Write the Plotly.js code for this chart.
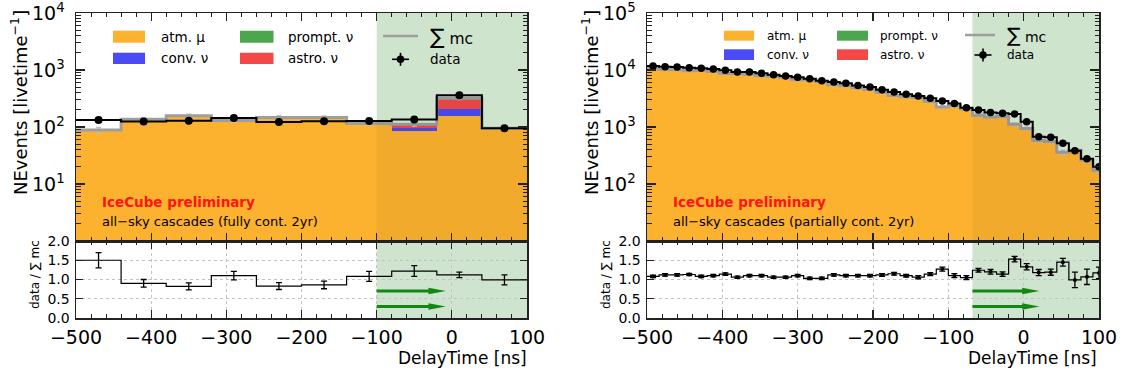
<!DOCTYPE html>
<html>
<head>
<meta charset="utf-8">
<script src="https://cdn.plot.ly/plotly-3.0.1.min.js"></script>
<style>html,body{margin:0;padding:0;background:#fff;}#chart{width:1131px;height:378px;}</style>
</head>
<body>
<div id="chart"></div>
<script>
// ---------------- LEFT PANEL DATA (fully contained, 2yr) ----------------
const leftEdges    = [-500,-440,-380,-320,-260,-200,-140,-80,-20,40,100];
const leftAtmMu    = [88,136,156,129,146,142,110,85,156,93];
const leftConvNu   = [0.6,0.8,0.9,0.8,1.2,4,4,12.5,48,1.2];
const leftPromptNu = [0.1,0.1,0.1,0.1,0.1,0.2,0.2,0.6,2.5,0.1];
const leftAstroNu  = [0.3,0.3,0.3,0.3,0.4,0.5,0.8,13.5,112,0.8];
const leftMcErr    = [9,9,10,9,10,10,9,8,15,8];
const leftData     = [133,125,129,144,122,126,127,136,360,95];
const leftDataErr  = [8,8,8,8,7,8,8,9,14,8];
const leftRatio    = [1.50,0.90,0.82,1.10,0.83,0.86,1.08,1.22,1.12,0.99];
const leftRatioErr = [0.20,0.10,0.09,0.11,0.09,0.10,0.13,0.14,0.07,0.13];
const leftCut      = {start:-100, arrowTo:-8};

// ---------------- RIGHT PANEL DATA (partially contained, 2yr) ----------------
const rightCenters  = [-492,-476,-460,-444,-428,-412,-396,-380,-364,-348,-332,-316,-300,-284,-268,-252,-236,-220,-204,-188,-172,-156,-140,-124,-108,-92,-76,-60,-44,-28,-12,4,20,36,52,68,84,100];
const rightBinWidth = 16;
const rightAtmMu    = [10880,10180,10090,9700,9910,9450,8670,8710,8390,7950,7810,7410,6760,6840,6310,5510,5310,4890,4560,4030,3570,3410,3300,2800,2250,2360,2070,1600,1490,1530,1110,930,573,555,357,388,260,171];
const rightConvNu   = [8,8,8,7,7,7,7,6,6,6,6,6,5,5,5,5,5,4,4,4,4,4,4,3,3,3,3,3,3,3,3,3,2,2,2,2,2,2];
const rightPromptNu = [0.4,0.4,0.4,0.4,0.4,0.4,0.4,0.4,0.4,0.4,0.3,0.3,0.3,0.3,0.3,0.3,0.3,0.3,0.3,0.3,0.3,0.3,0.3,0.3,0.3,0.3,0.3,0.3,0.3,0.3,0.2,0.2,0.2,0.2,0.2,0.2,0.2,0.2];
const rightAstroNu  = [1,1,1,1,1,1,1,1,1,1,1,1,1,1,1,1,1,1,1,1,1,1,1,1,1,1,1.5,2,2.5,3,4,6,4,2,1.5,1,1,1];
const rightMcErr    = [300,290,290,280,280,270,260,260,250,240,240,230,220,220,210,190,180,170,160,150,140,130,130,120,100,100,95,80,75,75,60,55,40,40,30,30,25,20];
const rightData     = [11750,11400,11300,10960,10700,10400,9880,9230,9230,8750,8280,7850,7440,7050,6500,6170,5840,5380,5020,4510,4110,3750,3500,3190,2860,2600,2170,1990,1790,1740,1700,1240,676,660,517,384,278,200];
const rightDataErr  = [110,110,110,105,105,100,100,95,95,95,90,90,85,85,80,80,75,75,70,70,65,60,60,55,55,50,50,45,45,45,45,35,25,25,25,20,17,15];
const rightRatio    = [1.08,1.12,1.12,1.13,1.08,1.10,1.14,1.06,1.10,1.10,1.06,1.06,1.10,1.03,1.03,1.12,1.10,1.10,1.10,1.12,1.15,1.10,1.06,1.14,1.27,1.10,1.05,1.24,1.20,1.14,1.53,1.33,1.18,1.19,1.45,0.99,1.07,1.17];
const rightRatioErr = [0.03,0.03,0.03,0.03,0.03,0.03,0.03,0.03,0.03,0.03,0.03,0.03,0.03,0.03,0.03,0.03,0.03,0.03,0.03,0.035,0.035,0.035,0.04,0.04,0.05,0.05,0.05,0.05,0.06,0.06,0.07,0.08,0.08,0.08,0.1,0.2,0.2,0.15];
const rightCut      = {start:-68, arrowTo:21};

const arrowLevels = [0.7, 0.3];
const legendLabels = {atm:'atm. μ', conv:'conv. ν', prompt:'prompt. ν', astro:'astro. ν', mc:'mc', data:'data'};

// ---------------- STYLE ----------------
const W = 1131, H = 378;
const FONT = 'DejaVu Sans, Verdana, sans-serif';
const C = {
  atm:'rgb(252,178,47)', conv:'rgb(75,75,245)', prompt:'rgb(77,166,77)', astro:'rgb(242,72,72)',
  mc:'rgb(158,158,158)', mcErr:'rgb(190,190,190)', data:'#000',
  cut:'rgb(207,228,206)', cutMain:'rgb(216,239,215)', arrow:'rgb(17,136,17)', axis:'#222'
};
const X = p => p / W;
const Y = p => 1 - p / H;

function edgesFromCenters(c, w){ const e = c.map(v => v - w/2); e.push(c[c.length-1] + w/2); return e; }
function centersFromEdges(e){ const c=[]; for(let i=0;i<e.length-1;i++) c.push((e[i]+e[i+1])/2); return c; }
function widthsFromEdges(e){ const w=[]; for(let i=0;i<e.length-1;i++) w.push(e[i+1]-e[i]); return w; }

function panelTraces(p){
  const centers = centersFromEdges(p.edges), widths = widthsFromEdges(p.edges);
  const comps = [[p.atm,C.atm],[p.conv,C.conv],[p.prompt,C.prompt],[p.astro,C.astro]];
  const sum = centers.map((_,i) => comps.reduce((s,c) => s + c[0][i], 0));
  const step = v => v.concat([v[v.length-1]]);
  const tr = [];
  comps.forEach(([vals,col]) => tr.push({type:'bar', x:centers, y:vals, width:widths,
    marker:{color:col, line:{width:0}}, xaxis:p.xa, yaxis:p.ya, hoverinfo:'skip'}));
  tr.push({type:'scatter', mode:'markers', x:centers, y:sum, marker:{size:0.1,color:C.mcErr},
    error_y:{type:'data', array:p.mcErr, color:C.mcErr, thickness:1.5, width:2.5},
    xaxis:p.xa, yaxis:p.ya, hoverinfo:'skip'});
  tr.push({type:'scatter', mode:'lines', x:p.edges, y:step(sum), line:{shape:'hv', color:C.mc, width:3},
    xaxis:p.xa, yaxis:p.ya, hoverinfo:'skip'});
  tr.push({type:'scatter', mode:'lines', x:p.edges, y:step(p.data), line:{shape:'hv', color:'#000', width:2},
    xaxis:p.xa, yaxis:p.ya, hoverinfo:'skip'});
  tr.push({type:'scatter', mode:'markers', x:centers, y:p.data, marker:{size:p.dot, color:'#000'},
    error_y:{type:'data', array:p.dataErr, color:'#000', thickness:1.5, width:0},
    xaxis:p.xa, yaxis:p.ya, hoverinfo:'skip'});
  // ratio
  tr.push({type:'scatter', mode:'lines', x:p.edges, y:step(p.ratio), line:{shape:'hv', color:'#000', width:1.2},
    xaxis:p.xr, yaxis:p.yr, hoverinfo:'skip'});
  tr.push({type:'scatter', mode:'markers', x:centers, y:p.ratio, marker:{size:p.rdot, color:'#000'},
    error_y:{type:'data', array:p.ratioErr, color:'#000', thickness:1.3, width:3},
    xaxis:p.xr, yaxis:p.yr, hoverinfo:'skip'});
  return tr;
}

const traces = [].concat(
  panelTraces({edges:leftEdges, atm:leftAtmMu, conv:leftConvNu, prompt:leftPromptNu, astro:leftAstroNu,
    mcErr:leftMcErr, data:leftData, dataErr:leftDataErr, ratio:leftRatio, ratioErr:leftRatioErr,
    xa:'x', ya:'y', xr:'x2', yr:'y2', dot:8, rdot:0.1}),
  panelTraces({edges:edgesFromCenters(rightCenters,rightBinWidth), atm:rightAtmMu, conv:rightConvNu, prompt:rightPromptNu, astro:rightAstroNu,
    mcErr:rightMcErr, data:rightData, dataErr:rightDataErr, ratio:rightRatio, ratioErr:rightRatioErr,
    xa:'x3', ya:'y3', xr:'x4', yr:'y4', dot:7.5, rdot:4})
);

// ---------------- AXES ----------------
const domL = [X(76), X(527)], domR = [X(647), X(1099)];
const domMain = [Y(241), Y(13)], domRatio = [Y(318), Y(241)];

function xAxis(domain, anchor, labels){
  return {domain, anchor, range:[-500,100], showticklabels:labels, tickfont:{size:19, family:FONT},
    ticks:'inside', ticklen:8, tickwidth:1.2, tickcolor:C.axis, tick0:0, dtick:100,
    mirror:'ticks', showline:true, linecolor:C.axis, linewidth:1.5, zeroline:false,
    showgrid:labels, gridcolor:'rgb(195,195,195)', griddash:'dot', gridwidth:1,
    ticklabelstandoff:2, ticklabeloverflow:'allow',
    minor:{ticks:'inside', ticklen:4, tick0:0, dtick:20, tickcolor:C.axis, tickwidth:1}};
}
function yLog(domain, anchor, lo, hi){
  const vals=[], text=[], minor=[];
  for(let d=lo; d<hi; d++){ for(let k=2;k<=9;k++) minor.push(k*Math.pow(10,d)); }
  for(let d=lo+1; d<=hi; d++){ vals.push(Math.pow(10,d)); text.push('10<sup>'+d+'</sup>'); }
  return {domain, anchor, type:'log', range:[lo,hi+0.001], tickmode:'array', tickvals:vals, ticktext:text,
    tickfont:{size:19, family:FONT}, ticks:'inside', ticklen:9, tickwidth:1.2, tickcolor:C.axis,
    mirror:'ticks', showline:true, linecolor:C.axis, linewidth:1.5, showgrid:false, zeroline:false,
    ticklabelstandoff:6, ticklabeloverflow:'allow',
    minor:{ticks:'inside', ticklen:4.5, tickmode:'array', tickvals:minor, tickcolor:C.axis, tickwidth:1}};
}
function yRatio(domain, anchor){
  return {domain, anchor, range:[0,2], tickmode:'array', tickvals:[0,0.5,1,1.5,2],
    ticktext:['0.0','0.5','1.0','1.5','2.0'], tickfont:{size:14, family:FONT},
    ticks:'inside', ticklen:7, tickwidth:1.2, tickcolor:C.axis, mirror:'ticks', showline:true,
    linecolor:C.axis, linewidth:1.5, zeroline:false, showgrid:true, gridcolor:'rgb(195,195,195)',
    griddash:'dot', gridwidth:1, ticklabelstandoff:2, ticklabeloverflow:'allow'};
}

// ---------------- SHAPES ----------------
const shapes = [];
function cutRegion(xa, ya, xr, yr, cut){
  shapes.push({type:'rect', xref:xa, yref:ya+' domain', x0:cut.start, x1:100, y0:0, y1:1, fillcolor:C.cutMain, line:{width:0}, layer:'below'});
  shapes.push({type:'rect', xref:xa, yref:ya+' domain', x0:cut.start, x1:100, y0:0, y1:1, fillcolor:'rgba(0,0,0,0.045)', line:{width:0}, layer:'above'});
  shapes.push({type:'rect', xref:xr, yref:yr+' domain', x0:cut.start, x1:100, y0:0, y1:1, fillcolor:C.cut, line:{width:0}, layer:'below'});
  arrowLevels.forEach(lv => {
    shapes.push({type:'line', xref:xr, yref:yr, x0:cut.start, x1:cut.arrowTo-20, y0:lv, y1:lv, line:{color:C.arrow, width:3}});
    shapes.push({type:'path', xref:xr, yref:yr, path:`M ${cut.arrowTo-23},${lv+0.085} L ${cut.arrowTo},${lv} L ${cut.arrowTo-23},${lv-0.085} Z`,
      fillcolor:C.arrow, line:{width:0}});
  });
}
cutRegion('x','y','x2','y2', leftCut);
cutRegion('x3','y3','x4','y4', rightCut);

const annotations = [];
function txt(text, x, y, size, extra){
  annotations.push(Object.assign({text, x:X(x), y:Y(y), xref:'paper', yref:'paper', showarrow:false,
    xanchor:'left', yanchor:'middle', font:{size, family:FONT, color:'#000'}}, extra||{}));
}
function legend(o){
  const box = (x0,x1,y0,y1,col) => shapes.push({type:'rect', xref:'paper', yref:'paper', x0:X(x0), x1:X(x1), y0:Y(y1), y1:Y(y0), fillcolor:col, line:{width:0}});
  box(o.c1[0], o.c1[1], o.r1[0], o.r1[1], C.atm);
  box(o.c1[0], o.c1[1], o.r2[0], o.r2[1], C.conv);
  box(o.c2[0], o.c2[1], o.r1[0], o.r1[1], C.prompt);
  box(o.c2[0], o.c2[1], o.r2[0], o.r2[1], C.astro);
  const m1 = (o.r1[0]+o.r1[1])/2, m2 = (o.r2[0]+o.r2[1])/2;
  txt(legendLabels.atm, o.t1, m1, o.fs);
  txt(legendLabels.conv, o.t1, m2, o.fs);
  txt(legendLabels.prompt, o.t2, m1, o.fs);
  txt(legendLabels.astro, o.t2, m2, o.fs);
  shapes.push({type:'line', xref:'paper', yref:'paper', x0:X(o.mc[0]), x1:X(o.mc[1]), y0:Y(o.mcY), y1:Y(o.mcY), line:{color:C.mc, width:2.5}});
  txt('<span style="font-size:'+(o.fs+8)+'px">∑</span> '+legendLabels.mc, o.t3, o.mcY, o.fs+2);
  const dx = o.dataX, dy = o.dataY;
  shapes.push({type:'line', xref:'paper', yref:'paper', x0:X(dx-8.5), x1:X(dx+8.5), y0:Y(dy), y1:Y(dy), line:{color:'#000', width:1.6}});
  shapes.push({type:'line', xref:'paper', yref:'paper', x0:X(dx), x1:X(dx), y0:Y(dy-6.5), y1:Y(dy+6.5), line:{color:'#000', width:1.6}});
  shapes.push({type:'circle', xref:'paper', yref:'paper', x0:X(dx-3.8), x1:X(dx+3.8), y0:Y(dy+3.8), y1:Y(dy-3.8), fillcolor:'#000', line:{width:0}});
  txt(legendLabels.data, o.t3, dy, o.fs);
}
legend({c1:[113,145], c2:[240,273.5], r1:[30.7,42.7], r2:[52.7,64], t1:159, t2:286, fs:13.5,
  mc:[383,418], mcY:36, t3:428, dataX:400.5, dataY:59.3});
legend({c1:[724,754], c2:[837,868], r1:[30.7,40.7], r2:[49.3,60], t1:765, t2:878, fs:12,
  mc:[965,995], mcY:35, t3:1005, dataX:983, dataY:55});

// titles and labels
[[19,35,529,100],[590,606,1099,670.5]].forEach(([yt, rt, xe, lx], i) => {
  txt('NEvents [livetime<sup>−1</sup>]', yt, 103, 18, {xanchor:'center', textangle:-90});
  txt('data / ∑ mc', rt, 275, 12, {xanchor:'center', textangle:-90});
  txt('DelayTime [ns]', xe, 358, 17, {xanchor:'right'});
  txt('<b>IceCube preliminary</b>', lx, 202, 13.5, {font:{size:13.5, family:FONT, color:'rgb(255,20,20)'}});
  txt(i===0 ? 'all−sky cascades (fully cont. 2yr)' : 'all−sky cascades (partially cont. 2yr)', lx, 221, 13);
});

const layout = {
  width:W, height:H, margin:{l:0,r:0,t:0,b:0}, paper_bgcolor:'#fff', plot_bgcolor:'rgba(0,0,0,0)',
  barmode:'stack', bargap:0, showlegend:false, font:{family:FONT, color:'#000'},
  xaxis:xAxis(domL,'y',false), yaxis:yLog(domMain,'x',0,4),
  xaxis2:xAxis(domL,'y2',true), yaxis2:yRatio(domRatio,'x2'),
  xaxis3:xAxis(domR,'y3',false), yaxis3:yLog(domMain,'x3',1,5),
  xaxis4:xAxis(domR,'y4',true), yaxis4:yRatio(domRatio,'x4'),
  shapes, annotations
};
Plotly.newPlot('chart', traces, layout, {staticPlot:true, displayModeBar:false});
</script>
</body>
</html>
